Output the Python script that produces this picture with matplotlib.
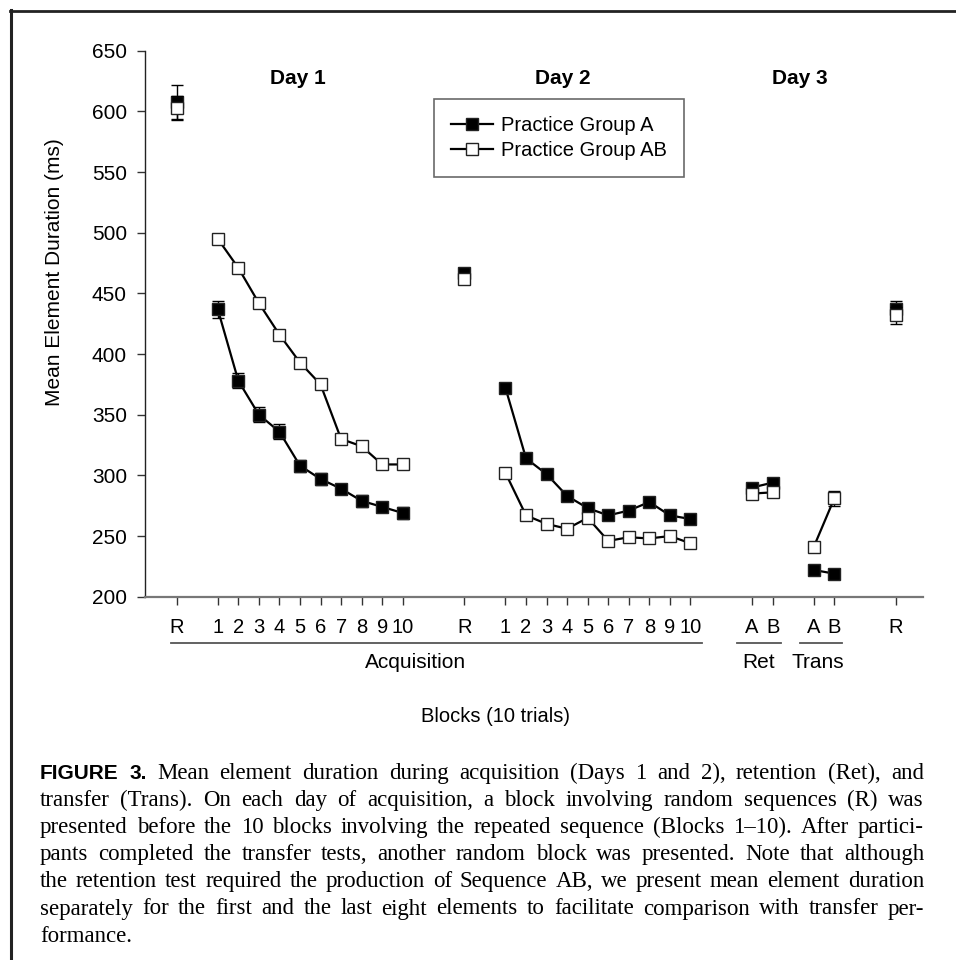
import matplotlib
matplotlib.use("Agg")
import matplotlib.pyplot as plt
from matplotlib.lines import Line2D
import matplotlib.transforms as mtransforms

plt.rcParams['font.family'] = ['Liberation Sans', 'DejaVu Sans']

# ---------------- data ----------------
day1_R_A = [608]
day1_R_AB = [603]
day1_acq_A = [437, 378, 350, 336, 308, 297, 289, 279, 274, 269]
day1_acq_AB = [495, 471, 442, 416, 393, 375, 330, 324, 309, 309]
day2_R_A = [467]
day2_R_AB = [462]
day2_acq_A = [372, 314, 301, 283, 273, 267, 271, 278, 267, 264]
day2_acq_AB = [302, 267, 260, 256, 265, 246, 249, 248, 250, 244]
ret_A = [290, 294]
ret_AB = [285, 286]
trans_A = [222, 219]
trans_AB = [241, 281]
day3_R_A = [437]
day3_R_AB = [432]

# standard errors
day1_R_A_se = [14]
day1_R_AB_se = [10]
day1_acq_A_se = [7, 6, 6, 6, 5, 5, 4, 5, 4, 5]
day1_acq_AB_se = [4, 3, 3, 3, 3, 3, 2, 3, 2, 2]
day2_R_A_se = [3]
day2_R_AB_se = [3]
day2_acq_A_se = [3, 3, 3, 3, 3, 3, 3, 3, 3, 3]
day2_acq_AB_se = [3, 3, 3, 3, 3, 3, 3, 3, 3, 3]
ret_A_se = [3, 3]
ret_AB_se = [3, 3]
trans_A_se = [3, 4]
trans_AB_se = [3, 6]
day3_R_A_se = [7]
day3_R_AB_se = [7]

block_labels = [str(i) for i in range(1, 11)]
group_ticklabels = [["R"], block_labels, ["R"], block_labels, ["A", "B"], ["A", "B"], ["R"]]
series_A = [day1_R_A, day1_acq_A, day2_R_A, day2_acq_A, ret_A, trans_A, day3_R_A]
series_AB = [day1_R_AB, day1_acq_AB, day2_R_AB, day2_acq_AB, ret_AB, trans_AB, day3_R_AB]
se_A = [day1_R_A_se, day1_acq_A_se, day2_R_A_se, day2_acq_A_se, ret_A_se, trans_A_se, day3_R_A_se]
se_AB = [day1_R_AB_se, day1_acq_AB_se, day2_R_AB_se, day2_acq_AB_se, ret_AB_se, trans_AB_se, day3_R_AB_se]
legend_labels = ["Practice Group A", "Practice Group AB"]
day_titles = ["Day 1", "Day 2", "Day 3"]
section_names = ["Acquisition", "Ret", "Trans"]
y_ticks = [200, 250, 300, 350, 400, 450, 500, 550, 600, 650]

caption_lines = [
    "FIGURE 3. Mean element duration during acquisition (Days 1 and 2), retention (Ret), and",
    "transfer (Trans). On each day of acquisition, a block involving random sequences (R) was",
    "presented before the 10 blocks involving the repeated sequence (Blocks 1\u201310). After partici-",
    "pants completed the transfer tests, another random block was presented. Note that although",
    "the retention test required the production of Sequence AB, we present mean element duration",
    "separately for the first and the last eight elements to facilitate comparison with transfer per-",
    "formance.",
]

# ---------------- layout of categorical positions ----------------
group_steps = [0, 2, 3, 2, 3, 2, 3]
positions = []
cur = None
for labels, step in zip(group_ticklabels, group_steps):
    grp = []
    for k in range(len(labels)):
        if cur is None:
            cur = 0
        elif k == 0:
            cur += step
        else:
            cur += 1
        grp.append(cur)
    positions.append(grp)

W, H = 956, 960
fig = plt.figure(figsize=(W / 100, H / 100), dpi=100)

ax_left, ax_right, ax_top, ax_bottom = 145, 923.3, 50.7, 596.7
ax = fig.add_axes([ax_left / W, 1 - ax_bottom / H, (ax_right - ax_left) / W, (ax_bottom - ax_top) / H])

msize = 9.2
for vals_list, se_list, face, z in [(series_A, se_A, 'black', 3), (series_AB, se_AB, 'white', 4)]:
    for xs, ys, es in zip(positions, vals_list, se_list):
        ax.errorbar(xs, ys, yerr=es, fmt='none', ecolor='black', elinewidth=1.0,
                    capsize=4.5, capthick=1.0, zorder=z)
        ax.plot(xs, ys, color='black', lw=1.6, marker='s', markersize=msize,
                markerfacecolor=face, markeredgecolor='#222222', markeredgewidth=1.0,
                zorder=z + 0.5)

ax.set_xlim(-1.54, 36.33)
ax.set_ylim(200, 650)
ax.set_yticks(y_ticks)
ax.set_yticklabels([str(v) for v in y_ticks], fontsize=15)
all_pos = [p for g in positions for p in g]
all_lab = [l for g in group_ticklabels for l in g]
ax.set_xticks(all_pos)
ax.set_xticklabels(all_lab, fontsize=14.5)
ax.tick_params(axis='x', direction='out', length=6, width=1.0, pad=9, colors='#333333', labelcolor='black')
ax.tick_params(axis='y', direction='out', length=6, width=1.0, pad=7, colors='#333333', labelcolor='black')
for s in ['top', 'right']:
    ax.spines[s].set_visible(False)
ax.spines['left'].set_color('#222222')
ax.spines['left'].set_linewidth(1.0)
ax.spines['bottom'].set_color('#777777')
ax.spines['bottom'].set_linewidth(1.6)

# day titles
day_centers = [5.9, 18.8, 30.3]
for t, xc in zip(day_titles, day_centers):
    ax.text(xc, 627.5, t, ha='center', va='center', fontsize=15, fontweight='bold')

# section underlines and names
trans_x = mtransforms.blended_transform_factory(ax.transData, ax.transAxes)
line_y = -46 / (ax_bottom - ax_top)
text_y = -66 / (ax_bottom - ax_top)
sections = [
    (positions[0][0] - 0.28, positions[3][-1] + 0.58, 11.6),
    (positions[4][0] - 0.73, positions[4][-1] + 0.43, 28.3),
    (positions[5][0] - 0.67, positions[5][-1] + 0.36, 31.2),
]
for name, (x0, x1, xc) in zip(section_names, sections):
    ax.plot([x0, x1], [line_y, line_y], transform=trans_x, color='#555555', lw=1.3, clip_on=False)
    ax.text(xc, text_y, name, transform=trans_x, ha='center', va='center', fontsize=15)

# axis labels
fig.text(55 / W, 1 - 272 / H, "Mean Element Duration (ms)", rotation=90, ha='center', va='center', fontsize=15)
fig.text(495 / W, 1 - 717 / H, "Blocks (10 trials)", ha='center', va='center', fontsize=14.5)

# legend
handles = [
    Line2D([], [], color='black', lw=1.6, marker='s', markersize=msize - 0.5, markerfacecolor='black',
           markeredgecolor='#222222'),
    Line2D([], [], color='black', lw=1.6, marker='s', markersize=msize - 0.5, markerfacecolor='white',
           markeredgecolor='#222222'),
]
leg = fig.legend(handles, legend_labels, loc='upper left', bbox_to_anchor=(434 / W, 1 - 99 / H),
                 bbox_transform=fig.transFigure, fontsize=14.5, frameon=True, fancybox=False,
                 borderpad=0.85, labelspacing=0.27, handlelength=2.1, handletextpad=0.4,
                 borderaxespad=0)
leg.get_frame().set_edgecolor('#444444')
leg.get_frame().set_linewidth(1.2)

# figure frame (left and top)
fig.add_artist(Line2D([11 / W, 11 / W], [0, 1 - 10 / H], transform=fig.transFigure, color='#222222', lw=2.2))
fig.add_artist(Line2D([10 / W, 1], [1 - 10.5 / H, 1 - 10.5 / H], transform=fig.transFigure, color='#222222', lw=2.0))

# caption, justified
renderer = fig.canvas.get_renderer()
cap_left, cap_right = 40, 924
base0, lead = 779, 27.1
for i, line in enumerate(caption_lines):
    words = line.split(' ')
    texts = []
    for j, wd in enumerate(words):
        if i == 0 and j < 2:
            t = fig.text(0, 0, wd, fontsize=15, fontweight='bold', family='Liberation Sans',
                         ha='left', va='baseline')
        else:
            t = fig.text(0, 0, wd, fontsize=16.5, family='Liberation Serif', ha='left', va='baseline')
        texts.append(t)
    widths = [t.get_window_extent(renderer).width for t in texts]
    total = sum(widths)
    if i < len(caption_lines) - 1 and len(words) > 1:
        gap = (cap_right - cap_left - total) / (len(words) - 1)
    else:
        gap = 5
    x = cap_left
    y = base0 + lead * i
    for t, w in zip(texts, widths):
        t.set_position((x / W, 1 - y / H))
        x += w + gap

fig.savefig("out.png", dpi=100)
